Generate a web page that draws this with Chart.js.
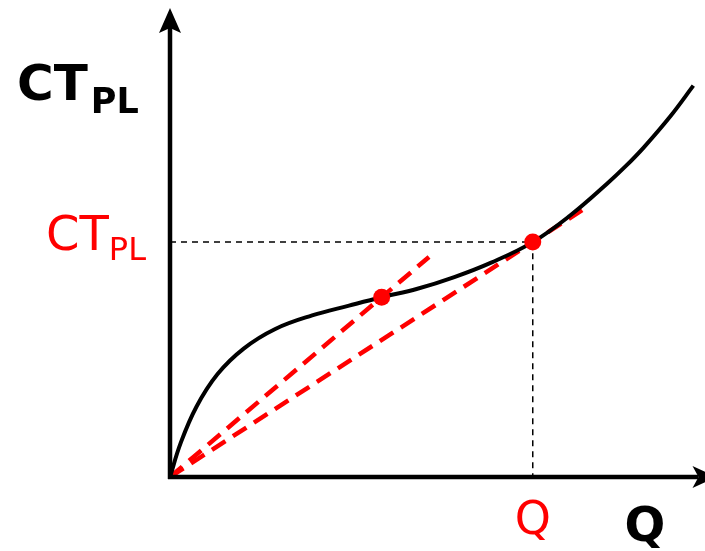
<!DOCTYPE html>
<html>
<head>
<meta charset="utf-8">
<style>
  html, body { margin: 0; padding: 0; background: #fff; }
  #chart { display: block; }
</style>
</head>
<body>
<canvas id="chart" width="705" height="551"></canvas>

<script src="https://cdn.jsdelivr.net/npm/chart.js"></script>
<script>
  // Total cost curve CT_PL(Q)
  const qValues  = [0, 2, 5, 9, 14, 20, 27, 34, 40.2, 47, 54, 61, 68.9, 76, 83, 86.5, 90, 95, 99.4];
  const ctValues = [0, 7.2, 15.0, 22.0, 27.5, 31.7, 34.6, 36.7, 38.5, 40.3, 42.8, 45.9, 50.3, 56.0, 62.8, 66.5, 70.6, 77.2, 83.8];

  // Two marked points on the curve (rays from the origin pass through them)
  const markQ  = [40.2, 68.9];
  const markCT = [38.5, 50.3];

  // How far each dashed ray from the origin runs
  const rayEndQ = [49.2, 78.9];

  const red = '#ff0000';

  const curve = qValues.map((q, i) => ({ x: q, y: ctValues[i] }));
  const rays = markQ.map((q, i) => {
    const slope = markCT[i] / q;
    return [{ x: 0, y: 0 }, { x: rayEndQ[i], y: rayEndQ[i] * slope }];
  });
  const qStar = markQ[1], ctStar = markCT[1];

  // Axes with arrowheads and the axis / reference labels
  const axesPlugin = {
    id: 'axes',
    afterDatasetsDraw(chart) {
      const c = chart.ctx;
      const xs = chart.scales.x, ys = chart.scales.y;
      const ox = xs.getPixelForValue(0), oy = ys.getPixelForValue(0);
      const top = chart.chartArea.top, right = chart.chartArea.right;

      c.save();
      c.strokeStyle = '#000';
      c.fillStyle = '#000';
      c.lineWidth = 4.5;
      c.lineCap = 'butt';

      // y axis
      c.beginPath();
      c.moveTo(ox, oy + 2);
      c.lineTo(ox, top + 18);
      c.stroke();
      c.beginPath();
      c.moveTo(ox, top - 2);
      c.lineTo(ox - 11, top + 23);
      c.lineTo(ox, top + 18);
      c.lineTo(ox + 11, top + 23);
      c.closePath();
      c.fill();

      // x axis (arrow tip runs off the right edge)
      c.beginPath();
      c.moveTo(ox - 2, oy);
      c.lineTo(right + 2, oy);
      c.stroke();
      c.beginPath();
      c.moveTo(right + 20, oy);
      c.lineTo(right - 4, oy - 11);
      c.lineTo(right + 2, oy);
      c.lineTo(right - 4, oy + 11);
      c.closePath();
      c.fill();

      c.textBaseline = 'alphabetic';
      c.textAlign = 'left';

      // y axis title
      c.font = 'bold 50px "DejaVu Sans"';
      c.fillText('CT', 17, 100);
      let w = c.measureText('CT').width;
      c.font = 'bold 35px "DejaVu Sans"';
      c.fillText('PL', 17 + w + 3, 113);

      // x axis title
      c.font = 'bold 48px "DejaVu Sans"';
      c.textAlign = 'center';
      c.fillText('Q', 645, 541);

      // red reference labels
      c.fillStyle = red;
      const cy = ys.getPixelForValue(ctStar);
      c.textAlign = 'left';
      c.font = '48px "DejaVu Sans"';
      c.fillText('CT', 46, cy + 8);
      w = c.measureText('CT').width;
      c.font = '32px "DejaVu Sans"';
      c.fillText('PL', 46 + w, cy + 18);

      c.textAlign = 'center';
      c.font = '46px "DejaVu Sans"';
      c.fillText('Q', xs.getPixelForValue(qStar), 534);

      c.restore();
    }
  };

  new Chart(document.getElementById('chart'), {
    type: 'scatter',
    data: {
      datasets: [
        {
          data: [{ x: 0, y: ctStar }, { x: qStar, y: ctStar }, { x: qStar, y: 0 }],
          showLine: true,
          borderColor: '#000',
          borderWidth: 1.5,
          borderDash: [6, 5],
          pointRadius: 0,
          order: 4
        },
        {
          data: rays[0],
          showLine: true,
          borderColor: red,
          borderWidth: 4.5,
          borderDash: [16, 9],
          pointRadius: 0,
          order: 3
        },
        {
          data: rays[1],
          showLine: true,
          borderColor: red,
          borderWidth: 4.5,
          borderDash: [16, 9],
          pointRadius: 0,
          order: 3
        },
        {
          data: curve,
          showLine: true,
          borderColor: '#000',
          borderWidth: 4,
          tension: 0.4,
          pointRadius: 0,
          order: 2
        },
        {
          data: markQ.map((q, i) => ({ x: q, y: markCT[i] })),
          pointRadius: 8.5,
          pointBackgroundColor: red,
          pointBorderWidth: 0,
          order: 1
        }
      ]
    },
    options: {
      responsive: false,
      devicePixelRatio: 1,
      animation: false,
      layout: { padding: { left: 170, right: 5, top: 10, bottom: 74 } },
      plugins: {
        legend: { display: false },
        tooltip: { enabled: false }
      },
      scales: {
        x: { type: 'linear', min: 0, max: 100, display: false },
        y: { type: 'linear', min: 0, max: 100, display: false }
      }
    },
    plugins: [axesPlugin]
  });
</script>
</body>
</html>
